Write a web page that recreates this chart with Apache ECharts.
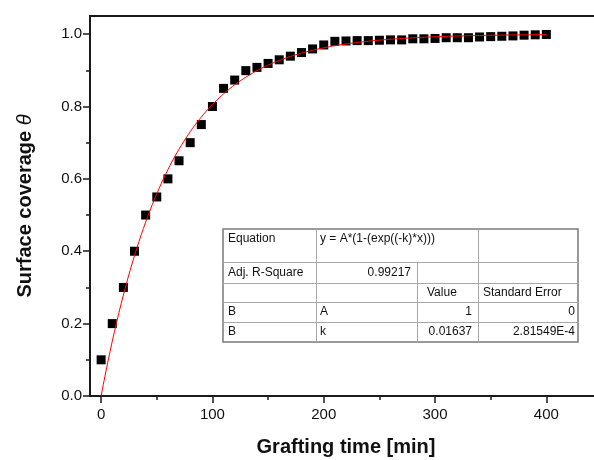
<!DOCTYPE html>
<html>
<head>
<meta charset="utf-8">
<title>Surface coverage vs grafting time</title>
<script src="https://cdn.jsdelivr.net/npm/echarts@6/dist/echarts.min.js"></script>
<style>
  html, body { margin: 0; padding: 0; background: #ffffff; }
  #chart { width: 594px; height: 460px; }
</style>
</head>
<body>
<div id="chart"></div>
<script>
// Measured surface coverage θ at each grafting time (min)
const graftingTime = [0, 10, 20, 30, 40, 50, 60, 70, 80, 90, 100, 110, 120, 130, 140, 150,
  160, 170, 180, 190, 200, 210, 220, 230, 240, 250, 260, 270, 280, 290, 300,
  310, 320, 330, 340, 350, 360, 370, 380, 390, 400];
const coverage = [0.10, 0.20, 0.30, 0.40, 0.50, 0.55, 0.60, 0.65, 0.70, 0.75, 0.80, 0.85, 0.873, 0.899, 0.908, 0.919,
  0.929, 0.939, 0.949, 0.959, 0.970, 0.980, 0.981, 0.982, 0.982, 0.983, 0.984, 0.984, 0.987, 0.987, 0.988,
  0.990, 0.990, 0.990, 0.992, 0.993, 0.994, 0.995, 0.997, 0.998, 0.999];

// Fit parameters of y = A*(1-exp(-k*x))
const fitA = 1;
const fitK = 0.01637;
const fitKErr = '2.81549E-4';
const fitAErr = '0';
const adjR2 = '0.99217';
const fitEquation = 'y = A*(1-(exp((-k)*x)))';
const fitXMax = 400;

// Axis ticks
const xMajorTicks = [0, 100, 200, 300, 400];
const xMinorTicks = [50, 150, 250, 350];
const yMajorTicks = [0, 0.2, 0.4, 0.6, 0.8, 1.0];
const yMinorTicks = [0.1, 0.3, 0.5, 0.7, 0.9];

// Fit-result table rows
const tableRows = [
  ['Equation', fitEquation, '', ''],
  ['Adj. R-Square', adjR2, '', ''],
  ['', '', 'Value', 'Standard Error'],
  ['B', 'A', String(fitA), fitAErr],
  ['B', 'k', String(fitK), fitKErr]
];

const scatterData = graftingTime.map((t, i) => [t, coverage[i]]);
const fitData = [];
for (let x = 0; x <= fitXMax; x += 2) {
  fitData.push([x, fitA * (1 - Math.exp(-fitK * x))]);
}

const FONT = '"Liberation Sans", Arial, Helvetica, sans-serif';
const AXIS_COLOR = '#1a1a1a';

// Table geometry (pixels)
const colX = [223, 316, 417, 478, 578];
const rowY = [229, 262, 283, 302, 322, 342];

function buildTable() {
  const els = [];
  els.push({
    type: 'rect', z: 100,
    shape: { x: colX[0], y: rowY[0], width: colX[4] - colX[0], height: rowY[5] - rowY[0] },
    style: { fill: '#ffffff', stroke: '#7a7a7a', lineWidth: 1.5 }
  });
  // horizontal separators
  for (let r = 1; r < rowY.length - 1; r++) {
    els.push({ type: 'line', z: 101,
      shape: { x1: colX[0], y1: rowY[r] + 0.5, x2: colX[4], y2: rowY[r] + 0.5 },
      style: { stroke: '#a8a8a8', lineWidth: 1 } });
  }
  // vertical separators (col 3 divider starts below the equation row)
  [[1, 0], [2, 1], [3, 0]].forEach(([c, r0]) => {
    els.push({ type: 'line', z: 101,
      shape: { x1: colX[c] + 0.5, y1: rowY[r0], x2: colX[c] + 0.5, y2: rowY[5] },
      style: { stroke: '#a8a8a8', lineWidth: 1 } });
  });
  const txt = (text, x, y, align) => ({
    type: 'text', z: 102,
    style: { text, x, y, font: '12px ' + FONT, fill: '#111', align, verticalAlign: 'middle',
      textAlign: align, textVerticalAlign: 'middle' }
  });
  // row 0: equation (texts near top of tall row)
  els.push(txt(tableRows[0][0], colX[0] + 5, rowY[0] + 10, 'left'));
  els.push(txt(tableRows[0][1], colX[1] + 4, rowY[0] + 10, 'left'));
  // row 1: adj. R-square
  els.push(txt(tableRows[1][0], colX[0] + 5, (rowY[1] + rowY[2]) / 2, 'left'));
  els.push(txt(tableRows[1][1], colX[2] - 6, (rowY[1] + rowY[2]) / 2, 'right'));
  // row 2: header
  els.push(txt(tableRows[2][2], colX[2] + 10, (rowY[2] + rowY[3]) / 2, 'left'));
  els.push(txt(tableRows[2][3], colX[3] + 5, (rowY[2] + rowY[3]) / 2, 'left'));
  // rows 3-4: parameters
  for (let r = 3; r <= 4; r++) {
    const cy = (rowY[r] + rowY[r + 1]) / 2;
    els.push(txt(tableRows[r][0], colX[0] + 5, cy, 'left'));
    els.push(txt(tableRows[r][1], colX[1] + 4, cy, 'left'));
    els.push(txt(tableRows[r][2], colX[3] - 6, cy, 'right'));
    els.push(txt(tableRows[r][3], colX[4] - 3, cy, 'right'));
  }
  return els;
}

const chart = echarts.init(document.getElementById('chart'), null, { renderer: 'canvas' });

const labelStyle = { fontFamily: FONT, fontSize: 15, color: '#111' };

chart.setOption({
  animation: false,
  backgroundColor: '#ffffff',
  grid: {
    left: 90, right: -8, top: 16, bottom: 64,
    show: true, borderColor: AXIS_COLOR, borderWidth: 2, backgroundColor: 'transparent',
    outerBoundsMode: 'none'
  },
  xAxis: [{
    type: 'value', min: -10, max: 450, position: 'bottom',
    name: 'Grafting time [min]', nameLocation: 'middle', nameGap: 41,
    nameTextStyle: { fontFamily: FONT, fontSize: 20, fontWeight: 'bold', color: '#111' },
    axisLine: { show: true, onZero: false, lineStyle: { color: AXIS_COLOR, width: 2 } },
    axisTick: { show: true, length: 7, customValues: xMajorTicks, lineStyle: { color: AXIS_COLOR, width: 1.5 } },
    axisLabel: Object.assign({ margin: 11, customValues: xMajorTicks, formatter: v => String(v) }, labelStyle),
    splitLine: { show: false }
  }, {
    type: 'value', min: -10, max: 450, position: 'bottom',
    axisLine: { show: false, onZero: false },
    axisTick: { show: true, length: 4, customValues: xMinorTicks, lineStyle: { color: AXIS_COLOR, width: 1.5 } },
    axisLabel: { show: false },
    splitLine: { show: false }
  }],
  yAxis: [{
    type: 'value', min: 0, max: 1.05, position: 'left',
    name: '{t|Surface coverage }{i|θ}', nameLocation: 'middle', nameGap: 55,
    nameTextStyle: {
      rich: {
        t: { fontFamily: FONT, fontSize: 20, fontWeight: 'bold', color: '#111' },
        i: { fontFamily: FONT, fontSize: 20, fontStyle: 'italic', color: '#111' }
      }
    },
    axisLine: { show: true, onZero: false, lineStyle: { color: AXIS_COLOR, width: 2 } },
    axisTick: { show: true, length: 7, customValues: yMajorTicks, lineStyle: { color: AXIS_COLOR, width: 1.5 } },
    axisLabel: Object.assign({ margin: 8, customValues: yMajorTicks, formatter: v => v.toFixed(1) }, labelStyle),
    splitLine: { show: false }
  }, {
    type: 'value', min: 0, max: 1.05, position: 'left',
    axisLine: { show: false, onZero: false },
    axisTick: { show: true, length: 4, customValues: yMinorTicks, lineStyle: { color: AXIS_COLOR, width: 1.5 } },
    axisLabel: { show: false },
    splitLine: { show: false }
  }],
  series: [{
    type: 'scatter', name: 'coverage', xAxisIndex: 0, yAxisIndex: 0,
    data: scatterData, symbol: 'rect', symbolSize: 9,
    itemStyle: { color: '#000000', opacity: 1 },
    z: 2
  }, {
    type: 'line', name: 'fit', xAxisIndex: 0, yAxisIndex: 0,
    data: fitData, showSymbol: false, smooth: false,
    lineStyle: { color: '#ff0000', width: 1 },
    z: 3
  }],
  graphic: buildTable()
});
</script>
</body>
</html>
